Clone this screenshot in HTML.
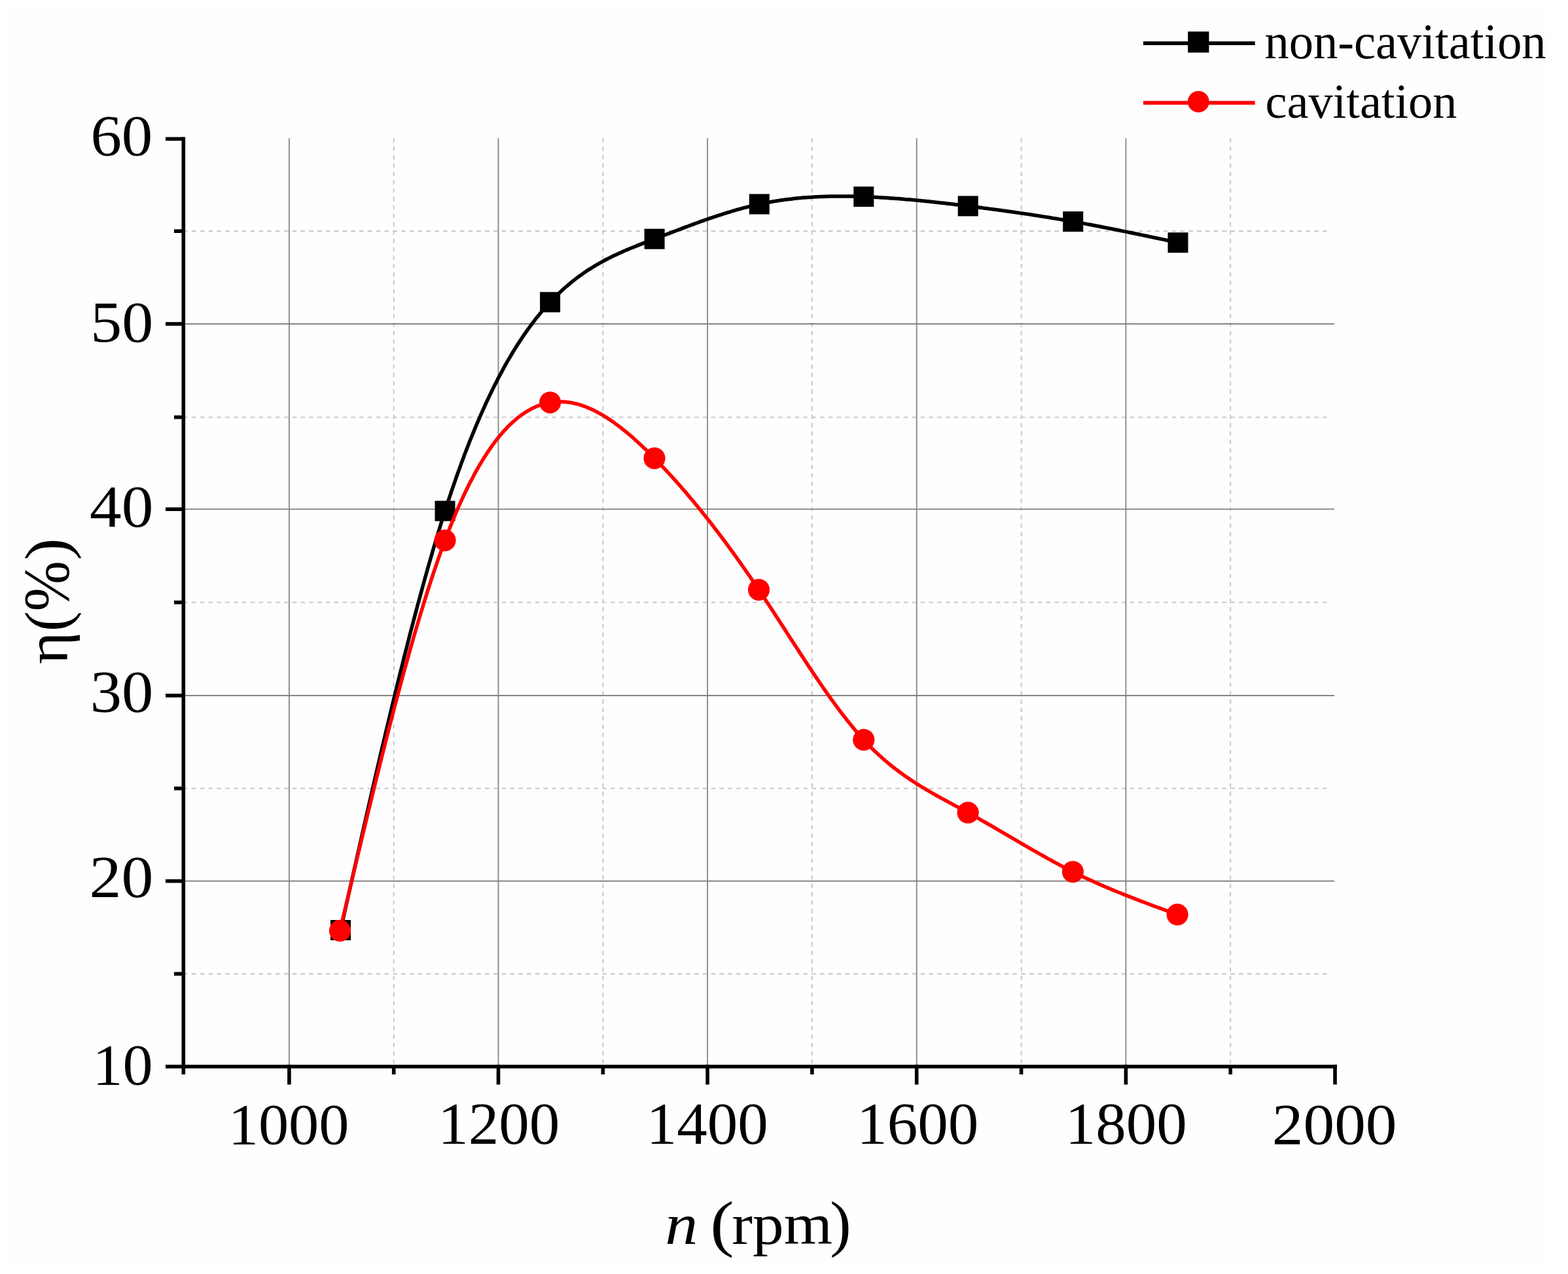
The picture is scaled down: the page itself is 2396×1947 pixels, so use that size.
<!DOCTYPE html>
<html><head><meta charset="utf-8"><title>Efficiency vs rotational speed</title>
<style>
html,body{margin:0;padding:0;background:#ffffff;}
body{width:2396px;height:1947px;overflow:hidden;}
svg{display:block;}
text{font-family:"Liberation Serif","Times New Roman",serif;fill:#000;}
</style></head><body>
<svg width="2396" height="1947" viewBox="0 0 2396 1947">
<rect x="0" y="0" width="2396" height="1947" fill="#ffffff"/>
<rect x="11" y="17" width="2354" height="1911" fill="#fefefe"/>

<g stroke="#c4c4c4" stroke-width="1.9" stroke-dasharray="6.5 6.3" fill="none"><line x1="601.7" y1="211.3" x2="601.7" y2="1630.0" /><line x1="921.3" y1="211.3" x2="921.3" y2="1630.0" /><line x1="1240.9" y1="211.3" x2="1240.9" y2="1630.0" /><line x1="1560.6" y1="211.3" x2="1560.6" y2="1630.0" /><line x1="1880.2" y1="211.3" x2="1880.2" y2="1630.0" /><line x1="280.3" y1="353.2" x2="2032" y2="353.2" /><line x1="280.3" y1="637.6" x2="2032" y2="637.6" /><line x1="280.3" y1="920.6" x2="2032" y2="920.6" /><line x1="280.3" y1="1204.9" x2="2032" y2="1204.9" /><line x1="280.3" y1="1488.3" x2="2032" y2="1488.3" /></g>
<g stroke="#848484" stroke-width="1.8" fill="none"><line x1="441.9" y1="211.3" x2="441.9" y2="1630.0" /><line x1="761.5" y1="211.3" x2="761.5" y2="1630.0" /><line x1="1081.1" y1="211.3" x2="1081.1" y2="1630.0" /><line x1="1400.7" y1="211.3" x2="1400.7" y2="1630.0" /><line x1="1720.4" y1="211.3" x2="1720.4" y2="1630.0" /><line x1="280.3" y1="495.0" x2="2039" y2="495.0" /><line x1="280.3" y1="778.2" x2="2039" y2="778.2" /><line x1="280.3" y1="1063.0" x2="2039" y2="1063.0" /><line x1="280.3" y1="1346.5" x2="2039" y2="1346.5" /></g>
<g stroke="#000" stroke-width="5.6" fill="none"><line x1="280.3" y1="209.6" x2="280.3" y2="1642" /><line x1="280.3" y1="1630.0" x2="2042.9" y2="1630.0" /><line x1="253" y1="212.3" x2="280.3" y2="212.3" /><line x1="253" y1="495.0" x2="280.3" y2="495.0" /><line x1="253" y1="778.2" x2="280.3" y2="778.2" /><line x1="253" y1="1063.0" x2="280.3" y2="1063.0" /><line x1="253" y1="1346.5" x2="280.3" y2="1346.5" /><line x1="253" y1="1630.0" x2="280.3" y2="1630.0" /><line x1="266" y1="353.2" x2="280.3" y2="353.2" /><line x1="266" y1="637.6" x2="280.3" y2="637.6" /><line x1="266" y1="920.6" x2="280.3" y2="920.6" /><line x1="266" y1="1204.9" x2="280.3" y2="1204.9" /><line x1="266" y1="1488.3" x2="280.3" y2="1488.3" /><line x1="441.9" y1="1627.1" x2="441.9" y2="1657.5" /><line x1="761.5" y1="1627.1" x2="761.5" y2="1657.5" /><line x1="1081.1" y1="1627.1" x2="1081.1" y2="1657.5" /><line x1="1400.7" y1="1627.1" x2="1400.7" y2="1657.5" /><line x1="1720.4" y1="1627.1" x2="1720.4" y2="1657.5" /><line x1="2040.0" y1="1627.1" x2="2040.0" y2="1657.5" /><line x1="601.7" y1="1630.0" x2="601.7" y2="1642" /><line x1="921.3" y1="1630.0" x2="921.3" y2="1642" /><line x1="1240.9" y1="1630.0" x2="1240.9" y2="1642" /><line x1="1560.6" y1="1630.0" x2="1560.6" y2="1642" /><line x1="1880.2" y1="1630.0" x2="1880.2" y2="1642" /></g>
<text transform="translate(138.38,236.71) scale(1.0542,0.9902)" font-size="90">60</text>
<text transform="translate(138.26,521.70) scale(1.0671,0.9967)" font-size="90">50</text>
<text transform="translate(137.04,804.60) scale(1.0812,1.0049)" font-size="90">40</text>
<text transform="translate(137.71,1087.80) scale(1.0735,1.0049)" font-size="90">30</text>
<text transform="translate(136.55,1371.30) scale(1.0867,1.0049)" font-size="90">20</text>
<text transform="translate(141.40,1656.50) scale(1.0253,0.9967)" font-size="90">10</text>
<text transform="translate(348.68,1747.80) scale(1.0272,0.9967)" font-size="90">1000</text>
<text transform="translate(669.23,1748.09) scale(1.0343,1.0098)" font-size="90">1200</text>
<text transform="translate(987.63,1748.09) scale(1.0343,1.0098)" font-size="90">1400</text>
<text transform="translate(1309.23,1748.09) scale(1.0343,1.0098)" font-size="90">1600</text>
<text transform="translate(1627.63,1748.09) scale(1.0343,1.0098)" font-size="90">1800</text>
<text transform="translate(1943.86,1747.90) scale(1.0590,0.9984)" font-size="90">2000</text>
<polyline points="520.5,1421.5 523.1,1410.1 525.6,1398.6 528.2,1387.2 530.8,1375.7 533.3,1364.3 535.9,1352.9 538.4,1341.5 541.0,1330.1 543.6,1318.7 546.1,1307.3 548.7,1296.0 551.3,1284.7 553.8,1273.4 556.4,1262.1 559.0,1250.8 561.5,1239.6 564.1,1228.4 566.7,1217.2 569.2,1206.1 571.8,1195.0 574.3,1183.9 576.9,1172.9 579.5,1161.9 582.0,1150.9 584.6,1140.0 587.2,1129.1 589.7,1118.3 592.3,1107.6 594.9,1096.8 597.4,1086.2 600.0,1075.5 602.6,1065.0 605.1,1054.5 607.7,1044.0 610.2,1033.6 612.8,1023.3 615.4,1013.1 617.9,1002.9 620.5,992.7 623.1,982.7 625.6,972.7 628.2,962.8 630.8,952.9 633.3,943.2 635.9,933.5 638.4,923.9 641.0,914.4 643.6,904.9 646.1,895.6 648.7,886.3 651.3,877.1 653.8,868.0 656.4,859.0 659.0,850.1 661.5,841.3 664.1,832.6 666.7,824.0 669.2,815.5 671.8,807.1 674.3,798.8 676.9,790.6 679.5,782.5 682.0,774.6 684.6,766.7 687.2,758.9 689.7,751.3 692.3,743.8 694.9,736.3 697.4,729.0 700.0,721.8 702.6,714.7 705.1,707.7 707.7,700.7 710.2,693.9 712.8,687.2 715.4,680.6 717.9,674.1 720.5,667.7 723.1,661.4 725.6,655.2 728.2,649.0 730.8,643.0 733.3,637.1 735.9,631.2 738.5,625.5 741.0,619.8 743.6,614.2 746.1,608.8 748.7,603.4 751.3,598.1 753.8,592.9 756.4,587.7 759.0,582.7 761.5,577.7 764.1,572.9 766.7,568.1 769.2,563.4 771.8,558.7 774.3,554.2 776.9,549.7 779.5,545.3 782.0,541.0 784.6,536.8 787.2,532.6 789.7,528.5 792.3,524.5 794.9,520.6 797.4,516.7 800.0,512.9 802.6,509.2 805.1,505.6 807.7,502.0 810.2,498.5 812.8,495.0 815.4,491.6 817.9,488.3 820.5,485.1 823.1,481.9 825.6,478.8 828.2,475.7 830.8,472.7 833.3,469.8 835.9,466.9 838.5,464.1 841.0,461.4 843.6,458.7 846.1,456.0 848.7,453.4 851.3,450.9 853.8,448.4 856.4,446.0 859.0,443.6 861.5,441.3 864.1,439.0 866.7,436.8 869.2,434.6 871.8,432.5 874.3,430.4 876.9,428.4 879.5,426.4 882.0,424.4 884.6,422.5 887.2,420.7 889.7,418.9 892.3,417.1 894.9,415.3 897.4,413.6 900.0,411.9 902.6,410.3 905.1,408.7 907.7,407.1 910.2,405.6 912.8,404.1 915.4,402.6 917.9,401.2 920.5,399.8 923.1,398.4 925.6,397.0 928.2,395.7 930.8,394.4 933.3,393.1 935.9,391.8 938.5,390.6 941.0,389.4 943.6,388.2 946.1,387.0 948.7,385.9 951.3,384.7 953.8,383.6 956.4,382.5 959.0,381.4 961.5,380.3 964.1,379.3 966.7,378.2 969.2,377.2 971.8,376.2 974.4,375.1 976.9,374.1 979.5,373.1 982.0,372.1 984.6,371.1 987.2,370.1 989.7,369.2 992.3,368.2 994.9,367.2 997.4,366.2 1000.0,365.2 1002.6,364.3 1005.1,363.3 1007.7,362.3 1010.2,361.3 1012.8,360.3 1015.4,359.3 1017.9,358.4 1020.5,357.4 1023.1,356.4 1025.6,355.4 1028.2,354.4 1030.8,353.5 1033.3,352.5 1035.9,351.5 1038.5,350.5 1041.0,349.6 1043.6,348.6 1046.1,347.6 1048.7,346.7 1051.3,345.7 1053.8,344.8 1056.4,343.8 1059.0,342.9 1061.5,341.9 1064.1,341.0 1066.7,340.1 1069.2,339.1 1071.8,338.2 1074.4,337.3 1076.9,336.4 1079.5,335.5 1082.0,334.6 1084.6,333.7 1087.2,332.9 1089.7,332.0 1092.3,331.1 1094.9,330.3 1097.4,329.4 1100.0,328.6 1102.6,327.8 1105.1,326.9 1107.7,326.1 1110.2,325.3 1112.8,324.5 1115.4,323.8 1117.9,323.0 1120.5,322.2 1123.1,321.5 1125.6,320.7 1128.2,320.0 1130.8,319.3 1133.3,318.6 1135.9,317.9 1138.5,317.2 1141.0,316.6 1143.6,315.9 1146.1,315.3 1148.7,314.7 1151.3,314.0 1153.8,313.4 1156.4,312.9 1159.0,312.3 1161.5,311.7 1164.1,311.2 1166.7,310.7 1169.2,310.2 1171.8,309.7 1174.4,309.2 1176.9,308.7 1179.5,308.3 1182.0,307.8 1184.6,307.4 1187.2,307.0 1189.7,306.6 1192.3,306.2 1194.9,305.8 1197.4,305.5 1200.0,305.1 1202.6,304.8 1205.1,304.5 1207.7,304.2 1210.3,303.9 1212.8,303.6 1215.4,303.3 1217.9,303.0 1220.5,302.8 1223.1,302.6 1225.6,302.3 1228.2,302.1 1230.8,301.9 1233.3,301.7 1235.9,301.5 1238.5,301.4 1241.0,301.2 1243.6,301.1 1246.1,300.9 1248.7,300.8 1251.3,300.7 1253.8,300.6 1256.4,300.5 1259.0,300.4 1261.5,300.3 1264.1,300.2 1266.7,300.1 1269.2,300.1 1271.8,300.0 1274.4,300.0 1276.9,300.0 1279.5,299.9 1282.0,299.9 1284.6,299.9 1287.2,299.9 1289.7,299.9 1292.3,300.0 1294.9,300.0 1297.4,300.0 1300.0,300.1 1302.6,300.1 1305.1,300.2 1307.7,300.2 1310.3,300.3 1312.8,300.4 1315.4,300.4 1317.9,300.5 1320.5,300.6 1323.1,300.7 1325.6,300.8 1328.2,300.9 1330.8,301.1 1333.3,301.2 1335.9,301.3 1338.5,301.4 1341.0,301.6 1343.6,301.7 1346.1,301.9 1348.7,302.0 1351.3,302.2 1353.8,302.3 1356.4,302.5 1359.0,302.7 1361.5,302.9 1364.1,303.0 1366.7,303.2 1369.2,303.4 1371.8,303.6 1374.4,303.8 1376.9,304.0 1379.5,304.2 1382.0,304.4 1384.6,304.7 1387.2,304.9 1389.7,305.1 1392.3,305.3 1394.9,305.6 1397.4,305.8 1400.0,306.0 1402.6,306.3 1405.1,306.5 1407.7,306.8 1410.3,307.0 1412.8,307.3 1415.4,307.6 1417.9,307.8 1420.5,308.1 1423.1,308.4 1425.6,308.6 1428.2,308.9 1430.8,309.2 1433.3,309.5 1435.9,309.8 1438.5,310.0 1441.0,310.3 1443.6,310.6 1446.2,310.9 1448.7,311.2 1451.3,311.5 1453.8,311.8 1456.4,312.1 1459.0,312.4 1461.5,312.7 1464.1,313.0 1466.7,313.4 1469.2,313.7 1471.8,314.0 1474.4,314.3 1476.9,314.6 1479.5,314.9 1482.0,315.3 1484.6,315.6 1487.2,315.9 1489.7,316.2 1492.3,316.6 1494.9,316.9 1497.4,317.2 1500.0,317.5 1502.6,317.9 1505.1,318.2 1507.7,318.5 1510.3,318.9 1512.8,319.2 1515.4,319.6 1517.9,319.9 1520.5,320.2 1523.1,320.6 1525.6,320.9 1528.2,321.3 1530.8,321.6 1533.3,322.0 1535.9,322.3 1538.5,322.7 1541.0,323.1 1543.6,323.4 1546.2,323.8 1548.7,324.1 1551.3,324.5 1553.8,324.9 1556.4,325.3 1559.0,325.6 1561.5,326.0 1564.1,326.4 1566.7,326.8 1569.2,327.1 1571.8,327.5 1574.4,327.9 1576.9,328.3 1579.5,328.7 1582.0,329.1 1584.6,329.5 1587.2,329.9 1589.7,330.3 1592.3,330.7 1594.9,331.1 1597.4,331.5 1600.0,331.9 1602.6,332.3 1605.1,332.7 1607.7,333.2 1610.3,333.6 1612.8,334.0 1615.4,334.4 1617.9,334.9 1620.5,335.3 1623.1,335.7 1625.6,336.2 1628.2,336.6 1630.8,337.0 1633.3,337.5 1635.9,337.9 1638.5,338.4 1641.0,338.8 1643.6,339.3 1646.2,339.8 1648.7,340.2 1651.3,340.7 1653.8,341.1 1656.4,341.6 1659.0,342.1 1661.5,342.6 1664.1,343.0 1666.7,343.5 1669.2,344.0 1671.8,344.5 1674.4,345.0 1676.9,345.5 1679.5,346.0 1682.1,346.5 1684.6,347.0 1687.2,347.5 1689.7,348.0 1692.3,348.5 1694.9,349.0 1697.4,349.5 1700.0,350.0 1702.6,350.5 1705.1,351.0 1707.7,351.5 1710.3,352.0 1712.8,352.6 1715.4,353.1 1717.9,353.6 1720.5,354.1 1723.1,354.6 1725.6,355.2 1728.2,355.7 1730.8,356.2 1733.3,356.8 1735.9,357.3 1738.5,357.8 1741.0,358.3 1743.6,358.9 1746.2,359.4 1748.7,360.0 1751.3,360.5 1753.8,361.0 1756.4,361.6 1759.0,362.1 1761.5,362.6 1764.1,363.2 1766.7,363.7 1769.2,364.3 1771.8,364.8 1774.4,365.4 1776.9,365.9 1779.5,366.4 1782.1,367.0 1784.6,367.5 1787.2,368.1 1789.7,368.6 1792.3,369.2 1794.9,369.7 1797.4,370.3 1800.0,370.8" fill="none" stroke="#000" stroke-width="5.5" stroke-linejoin="round"/>
<g fill="#000"><rect x="505.0" y="1406.0" width="31" height="31"/><rect x="664.5" y="765.4" width="31" height="31"/><rect x="825.1" y="446.3" width="31" height="31"/><rect x="984.6" y="349.7" width="31" height="31"/><rect x="1144.8" y="296.5" width="31" height="31"/><rect x="1304.3" y="285.1" width="31" height="31"/><rect x="1463.7" y="299.4" width="31" height="31"/><rect x="1624.2" y="323.1" width="31" height="31"/><rect x="1784.5" y="355.3" width="31" height="31"/></g>
<polyline points="519.5,1422.4 522.1,1411.5 524.6,1400.7 527.2,1389.8 529.8,1378.9 532.3,1368.1 534.9,1357.2 537.5,1346.4 540.0,1335.6 542.6,1324.8 545.1,1314.0 547.7,1303.2 550.3,1292.5 552.8,1281.8 555.4,1271.1 558.0,1260.4 560.5,1249.8 563.1,1239.2 565.7,1228.7 568.2,1218.1 570.8,1207.7 573.4,1197.2 575.9,1186.8 578.5,1176.5 581.0,1166.1 583.6,1155.9 586.2,1145.7 588.7,1135.5 591.3,1125.4 593.9,1115.4 596.4,1105.4 599.0,1095.5 601.6,1085.6 604.1,1075.9 606.7,1066.1 609.3,1056.5 611.8,1046.9 614.4,1037.4 616.9,1028.0 619.5,1018.6 622.1,1009.4 624.6,1000.2 627.2,991.1 629.8,982.0 632.3,973.1 634.9,964.3 637.5,955.5 640.0,946.9 642.6,938.3 645.2,929.9 647.7,921.5 650.3,913.3 652.8,905.1 655.4,897.1 658.0,889.1 660.5,881.3 663.1,873.6 665.7,866.0 668.2,858.5 670.8,851.2 673.4,844.0 675.9,836.8 678.5,829.9 681.1,823.0 683.6,816.3 686.2,809.7 688.7,803.2 691.3,796.8 693.9,790.6 696.4,784.5 699.0,778.5 701.6,772.7 704.1,767.0 706.7,761.3 709.3,755.8 711.8,750.5 714.4,745.2 717.0,740.1 719.5,735.1 722.1,730.2 724.6,725.4 727.2,720.7 729.8,716.1 732.3,711.7 734.9,707.3 737.5,703.1 740.0,699.0 742.6,695.0 745.2,691.1 747.7,687.3 750.3,683.6 752.9,680.0 755.4,676.5 758.0,673.2 760.5,669.9 763.1,666.7 765.7,663.7 768.2,660.7 770.8,657.8 773.4,655.1 775.9,652.4 778.5,649.8 781.1,647.4 783.6,645.0 786.2,642.7 788.8,640.5 791.3,638.4 793.9,636.4 796.4,634.5 799.0,632.7 801.6,631.0 804.1,629.3 806.7,627.8 809.3,626.3 811.8,624.9 814.4,623.6 817.0,622.4 819.5,621.3 822.1,620.2 824.7,619.3 827.2,618.4 829.8,617.6 832.3,616.9 834.9,616.2 837.5,615.7 840.0,615.2 842.6,614.8 845.2,614.5 847.7,614.2 850.3,614.0 852.9,613.9 855.4,613.9 858.0,613.9 860.6,614.0 863.1,614.2 865.7,614.4 868.2,614.7 870.8,615.1 873.4,615.5 875.9,616.0 878.5,616.6 881.1,617.2 883.6,617.9 886.2,618.7 888.8,619.5 891.3,620.4 893.9,621.3 896.5,622.3 899.0,623.4 901.6,624.5 904.1,625.6 906.7,626.8 909.3,628.1 911.8,629.4 914.4,630.8 917.0,632.2 919.5,633.7 922.1,635.2 924.7,636.8 927.2,638.4 929.8,640.1 932.4,641.8 934.9,643.5 937.5,645.3 940.0,647.2 942.6,649.1 945.2,651.0 947.7,652.9 950.3,655.0 952.9,657.0 955.4,659.1 958.0,661.2 960.6,663.3 963.1,665.5 965.7,667.7 968.3,670.0 970.8,672.3 973.4,674.6 976.0,677.0 978.5,679.3 981.1,681.7 983.6,684.2 986.2,686.6 988.8,689.1 991.3,691.6 993.9,694.2 996.5,696.7 999.0,699.3 1001.6,701.9 1004.2,704.5 1006.7,707.2 1009.3,709.9 1011.9,712.6 1014.4,715.3 1017.0,718.0 1019.5,720.7 1022.1,723.5 1024.7,726.3 1027.2,729.1 1029.8,732.0 1032.4,734.8 1034.9,737.7 1037.5,740.6 1040.1,743.5 1042.6,746.5 1045.2,749.4 1047.8,752.4 1050.3,755.4 1052.9,758.4 1055.4,761.5 1058.0,764.5 1060.6,767.6 1063.1,770.7 1065.7,773.8 1068.3,777.0 1070.8,780.1 1073.4,783.3 1076.0,786.5 1078.5,789.7 1081.1,793.0 1083.7,796.2 1086.2,799.5 1088.8,802.8 1091.3,806.1 1093.9,809.5 1096.5,812.8 1099.0,816.2 1101.6,819.6 1104.2,823.0 1106.7,826.4 1109.3,829.9 1111.9,833.4 1114.4,836.9 1117.0,840.4 1119.6,843.9 1122.1,847.4 1124.7,851.0 1127.2,854.6 1129.8,858.2 1132.4,861.8 1134.9,865.5 1137.5,869.1 1140.1,872.8 1142.6,876.5 1145.2,880.2 1147.8,884.0 1150.3,887.7 1152.9,891.5 1155.5,895.3 1158.0,899.1 1160.6,902.9 1163.1,906.8 1165.7,910.6 1168.3,914.5 1170.8,918.4 1173.4,922.3 1176.0,926.2 1178.5,930.1 1181.1,934.1 1183.7,938.0 1186.2,942.0 1188.8,945.9 1191.4,949.9 1193.9,953.9 1196.5,957.8 1199.0,961.8 1201.6,965.8 1204.2,969.8 1206.7,973.7 1209.3,977.7 1211.9,981.7 1214.4,985.6 1217.0,989.6 1219.6,993.5 1222.1,997.5 1224.7,1001.4 1227.3,1005.3 1229.8,1009.2 1232.4,1013.1 1234.9,1017.0 1237.5,1020.9 1240.1,1024.8 1242.6,1028.6 1245.2,1032.4 1247.8,1036.2 1250.3,1040.0 1252.9,1043.8 1255.5,1047.5 1258.0,1051.2 1260.6,1054.9 1263.2,1058.6 1265.7,1062.2 1268.3,1065.8 1270.8,1069.4 1273.4,1072.9 1276.0,1076.4 1278.5,1079.9 1281.1,1083.4 1283.7,1086.8 1286.2,1090.2 1288.8,1093.5 1291.4,1096.8 1293.9,1100.1 1296.5,1103.3 1299.1,1106.5 1301.6,1109.6 1304.2,1112.7 1306.7,1115.8 1309.3,1118.8 1311.9,1121.8 1314.4,1124.7 1317.0,1127.5 1319.6,1130.4 1322.1,1133.1 1324.7,1135.8 1327.3,1138.5 1329.8,1141.1 1332.4,1143.7 1335.0,1146.2 1337.5,1148.7 1340.1,1151.1 1342.6,1153.5 1345.2,1155.8 1347.8,1158.1 1350.3,1160.4 1352.9,1162.6 1355.5,1164.7 1358.0,1166.9 1360.6,1169.0 1363.2,1171.1 1365.7,1173.1 1368.3,1175.1 1370.9,1177.0 1373.4,1179.0 1376.0,1180.9 1378.6,1182.7 1381.1,1184.6 1383.7,1186.4 1386.2,1188.1 1388.8,1189.9 1391.4,1191.6 1393.9,1193.3 1396.5,1195.0 1399.1,1196.7 1401.6,1198.3 1404.2,1199.9 1406.8,1201.5 1409.3,1203.1 1411.9,1204.6 1414.5,1206.1 1417.0,1207.7 1419.6,1209.2 1422.1,1210.7 1424.7,1212.1 1427.3,1213.6 1429.8,1215.0 1432.4,1216.5 1435.0,1217.9 1437.5,1219.3 1440.1,1220.7 1442.7,1222.1 1445.2,1223.5 1447.8,1224.9 1450.4,1226.3 1452.9,1227.7 1455.5,1229.1 1458.0,1230.5 1460.6,1231.9 1463.2,1233.2 1465.7,1234.6 1468.3,1236.0 1470.9,1237.4 1473.4,1238.8 1476.0,1240.2 1478.6,1241.6 1481.1,1243.0 1483.7,1244.4 1486.3,1245.9 1488.8,1247.3 1491.4,1248.7 1493.9,1250.2 1496.5,1251.6 1499.1,1253.1 1501.6,1254.6 1504.2,1256.0 1506.8,1257.5 1509.3,1259.0 1511.9,1260.4 1514.5,1261.9 1517.0,1263.4 1519.6,1264.9 1522.2,1266.4 1524.7,1267.9 1527.3,1269.4 1529.8,1270.9 1532.4,1272.4 1535.0,1273.9 1537.5,1275.4 1540.1,1276.9 1542.7,1278.4 1545.2,1279.9 1547.8,1281.4 1550.4,1282.9 1552.9,1284.4 1555.5,1285.9 1558.1,1287.4 1560.6,1288.9 1563.2,1290.4 1565.7,1291.9 1568.3,1293.3 1570.9,1294.8 1573.4,1296.3 1576.0,1297.8 1578.6,1299.3 1581.1,1300.7 1583.7,1302.2 1586.3,1303.7 1588.8,1305.1 1591.4,1306.6 1594.0,1308.0 1596.5,1309.4 1599.1,1310.9 1601.6,1312.3 1604.2,1313.7 1606.8,1315.1 1609.3,1316.5 1611.9,1317.9 1614.5,1319.3 1617.0,1320.7 1619.6,1322.1 1622.2,1323.4 1624.7,1324.8 1627.3,1326.1 1629.9,1327.4 1632.4,1328.8 1635.0,1330.1 1637.5,1331.4 1640.1,1332.7 1642.7,1333.9 1645.2,1335.2 1647.8,1336.5 1650.4,1337.7 1652.9,1338.9 1655.5,1340.2 1658.1,1341.4 1660.6,1342.6 1663.2,1343.8 1665.8,1345.0 1668.3,1346.1 1670.9,1347.3 1673.4,1348.4 1676.0,1349.6 1678.6,1350.7 1681.1,1351.9 1683.7,1353.0 1686.3,1354.1 1688.8,1355.2 1691.4,1356.3 1694.0,1357.4 1696.5,1358.5 1699.1,1359.5 1701.7,1360.6 1704.2,1361.7 1706.8,1362.7 1709.3,1363.8 1711.9,1364.8 1714.5,1365.8 1717.0,1366.9 1719.6,1367.9 1722.2,1368.9 1724.7,1369.9 1727.3,1370.9 1729.9,1371.9 1732.4,1372.9 1735.0,1373.9 1737.6,1374.9 1740.1,1375.9 1742.7,1376.9 1745.2,1377.8 1747.8,1378.8 1750.4,1379.8 1752.9,1380.7 1755.5,1381.7 1758.1,1382.7 1760.6,1383.6 1763.2,1384.6 1765.8,1385.5 1768.3,1386.5 1770.9,1387.4 1773.5,1388.3 1776.0,1389.3 1778.6,1390.2 1781.1,1391.2 1783.7,1392.1 1786.3,1393.0 1788.8,1394.0 1791.4,1394.9 1794.0,1395.8 1796.5,1396.8 1799.1,1397.7" fill="none" stroke="#ff0000" stroke-width="5.5" stroke-linejoin="round"/>
<g fill="#ff0000"><circle cx="519.5" cy="1422.4" r="16.6"/><circle cx="680.0" cy="825.8" r="16.6"/><circle cx="840.6" cy="615.1" r="16.6"/><circle cx="1000.0" cy="700.3" r="16.6"/><circle cx="1159.5" cy="901.3" r="16.6"/><circle cx="1319.8" cy="1130.6" r="16.6"/><circle cx="1479.1" cy="1241.9" r="16.6"/><circle cx="1639.4" cy="1332.3" r="16.6"/><circle cx="1799.1" cy="1397.7" r="16.6"/></g>
<line x1="1747" y1="66.1" x2="1917.7" y2="66.1" stroke="#000" stroke-width="5.8"/>
<rect x="1815.2" y="48.2" width="32.2" height="32.2" fill="#000"/>
<line x1="1747" y1="157.1" x2="1917.7" y2="157.1" stroke="#ff0000" stroke-width="5.8"/>
<circle cx="1831.3" cy="155.4" r="16.4" fill="#ff0000"/>
<text transform="translate(1932.46,89.17) scale(1.0203,1.0300)" font-size="73">non-cavitation</text>
<text transform="translate(1933.55,180.17) scale(1.0176,1.0260)" font-size="73">cavitation</text>
<text transform="translate(103.24,1014.93) rotate(-90) scale(1.0262,0.9823)" font-size="92">&#951;</text>
<text transform="translate(103.97,965.07) rotate(-90) scale(1.0167,1.0439)" font-size="92">(</text>
<text transform="translate(104.03,934.23) rotate(-90) scale(1.0086,1.0705)" font-size="92">%</text>
<text transform="translate(103.97,856.34) rotate(-90) scale(1.1125,1.0439)" font-size="92">)</text>
<text transform="translate(1016.23,1900.80) scale(1.0897,0.9721)" font-size="92" font-style="italic">n</text>
<text transform="translate(1085.37,1901.74) scale(1.1833,1.0402)" font-size="92">(</text>
<text transform="translate(1118.23,1901.39) scale(1.0366,0.9635)" font-size="92">rpm</text>
<text transform="translate(1268.33,1901.74) scale(1.0583,1.0402)" font-size="92">)</text>
</svg></body></html>
